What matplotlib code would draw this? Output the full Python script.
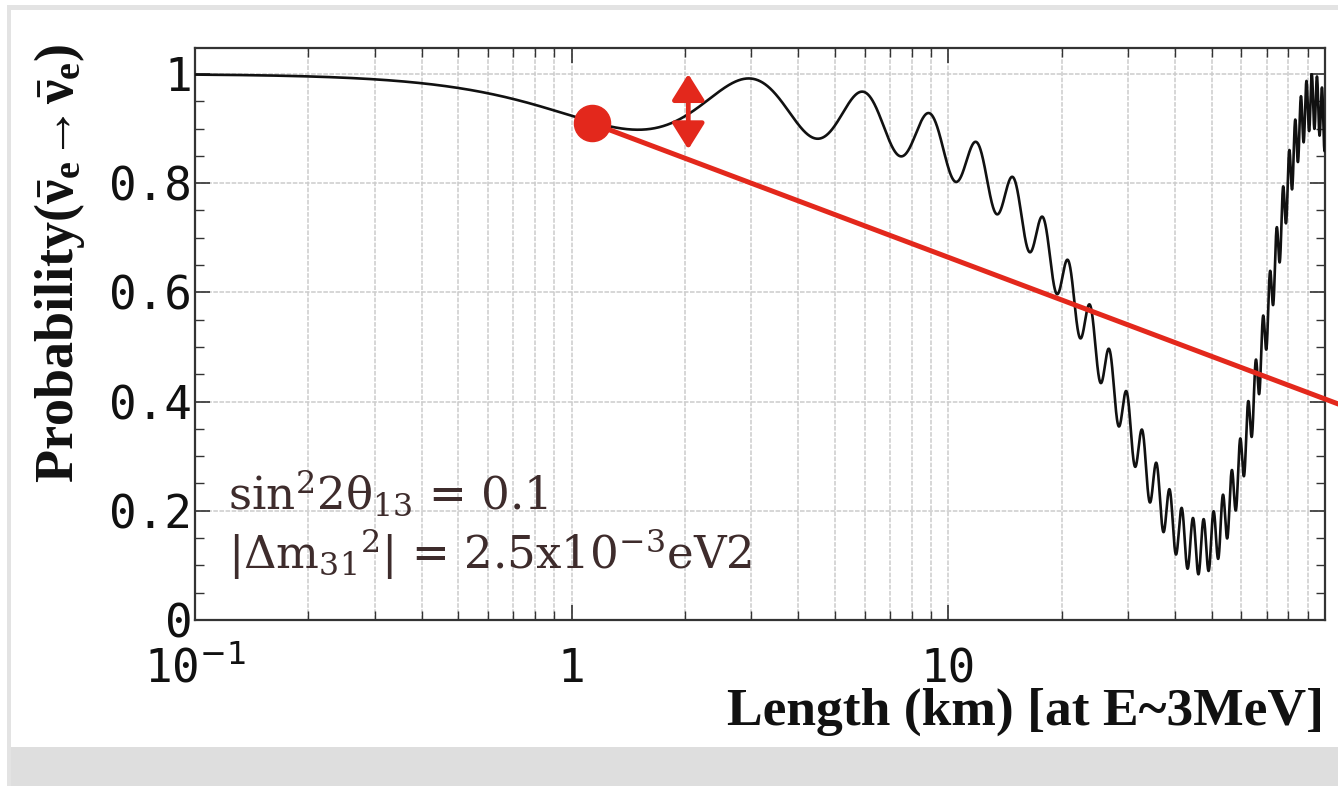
import numpy as np
import matplotlib
matplotlib.use("Agg")
import matplotlib.pyplot as plt
from matplotlib.patches import Rectangle
from matplotlib.ticker import LogLocator, MultipleLocator, NullFormatter

# Oscillation parameters (as stated on the plot) and beam energy
sin2_2theta13 = 0.1
dm31_sq = 2.5e-3        # eV^2
dm21_sq = 8.0e-5        # eV^2
sin2_2theta12 = 0.86
energy_gev = 0.003      # E ~ 3 MeV

# Baseline range (km)
length_km = np.logspace(-1, 2, 30000)

# Reference point on the curve and the line drawn from it
point_len, point_prob = 1.13, 0.91
line_end_len, line_end_prob = 110.0, 0.394
# Amplitude marker (double arrow)
arrow_len = 2.04
arrow_top, arrow_bottom = 1.0, 0.862

y_ticks = [0, 0.2, 0.4, 0.6, 0.8, 1.0]
y_tick_labels = ["0", "0.2", "0.4", "0.6", "0.8", "1"]
x_ticks = [0.1, 1, 10]
x_tick_labels = [r"10$^{-1}$", "1", "10"]

# Survival probability of reactor anti-neutrinos
cos4_theta13 = (0.5 * (1 + np.sqrt(1 - sin2_2theta13))) ** 2
phase31 = 1.267 * dm31_sq * length_km / energy_gev
phase21 = 1.267 * dm21_sq * length_km / energy_gev
prob = (1 - sin2_2theta13 * np.sin(phase31) ** 2
        - cos4_theta13 * sin2_2theta12 * np.sin(phase21) ** 2)

plt.rcParams["mathtext.rm"] = "Liberation Serif"
plt.rcParams["mathtext.bf"] = "Liberation Serif:bold"
plt.rcParams["mathtext.it"] = "Liberation Serif:italic"

W, H = 1338, 786
fig = plt.figure(figsize=(W / 100, H / 100), dpi=100)
fig.patch.set_facecolor("white")

# Grey page frame around the plot
gray = "#e3e3e3"
fig.add_artist(Rectangle((7 / W, 0), (W - 7) / W, 39 / H, transform=fig.transFigure,
                         facecolor="#dedede", edgecolor="none", zorder=0))
fig.add_artist(Rectangle((7 / W, 0), 4 / W, 1 - 5 / H, transform=fig.transFigure,
                         facecolor=gray, edgecolor="none", zorder=0))
fig.add_artist(Rectangle((7 / W, 1 - 10 / H), (W - 7) / W, 5 / H, transform=fig.transFigure,
                         facecolor=gray, edgecolor="none", zorder=0))

ax = fig.add_axes([195 / W, 1 - 620 / H, 1130 / W, 572 / H])
ax.set_xscale("log")
ax.set_xlim(0.1, 100)
ax.set_ylim(0, 1.0476)

ax.plot(length_km, prob, color="#111111", lw=1.9, zorder=3)

red = "#e3281c"
ax.plot([point_len, line_end_len], [point_prob, line_end_prob], color=red, lw=3.6,
        solid_capstyle="butt", clip_on=False, zorder=4)
ax.plot([point_len], [point_prob], "o", color=red, ms=26, zorder=5, clip_on=False)
ax.annotate("", xy=(arrow_len, arrow_top), xytext=(arrow_len, arrow_bottom),
            arrowprops=dict(arrowstyle="<|-|>,head_length=0.8,head_width=0.5",
                            mutation_scale=20, color=red, lw=3.4, shrinkA=0, shrinkB=0),
            zorder=5)

# Axis styling
mono = "DejaVu Sans Mono"
ax.set_yticks(y_ticks)
ax.set_yticklabels(y_tick_labels, fontfamily=mono, fontsize=33)
ax.set_xticks(x_ticks)
ax.set_xticklabels(x_tick_labels, fontfamily=mono, fontsize=33)
plt.setp(ax.get_xticklabels(), va="baseline")
ax.xaxis.set_minor_locator(LogLocator(base=10, subs=np.arange(2, 10)))
ax.xaxis.set_minor_formatter(NullFormatter())
ax.yaxis.set_minor_locator(MultipleLocator(0.05))
ax.tick_params(which="both", direction="in", top=True, right=True, colors="#333333")
ax.tick_params(which="major", length=11, width=1.2)
ax.tick_params(which="minor", length=6.5, width=1.0)
ax.tick_params(axis="y", pad=2, labelcolor="#111111")
ax.tick_params(axis="x", pad=45, labelcolor="#111111")
for s in ax.spines.values():
    s.set_color("#333333")
    s.set_linewidth(1.6)

ax.grid(which="major", axis="both", color="#cccccc", lw=1.1, ls=(0, (3, 1)))
ax.grid(which="minor", axis="x", color="#cccccc", lw=1.1, ls=(0, (3, 1)))
ax.set_axisbelow(True)

# Axis titles
fig.text(1324 / W, 1 - 725 / H, "Length (km) [at E~3MeV]", ha="right", va="baseline",
         fontfamily="Liberation Serif", fontweight="bold", fontsize=38.5, color="#111111")
fig.text(60 / W, 1 - 44 / H,
         r"Probability($\bar{\mathbf{ν}}_{\mathbf{e}}\!\rightarrow\!\bar{\mathbf{ν}}_{\mathbf{e}}$)",
         rotation=90, ha="center", va="top", fontfamily="Liberation Serif",
         fontweight="bold", fontsize=39, color="#111111", math_fontfamily="custom")

# Parameter annotation
txt_color = "#3e2c2c"
fig.text(228 / W, 1 - 510 / H, r"sin$^{2}$2θ$_{13}$ = 0.1", ha="left", va="baseline",
         fontfamily="DejaVu Serif", fontsize=32.5, color=txt_color, math_fontfamily="dejavuserif")
fig.text(228 / W, 1 - 569 / H, r"|Δm$_{31}$$^{2}$| = 2.5x10$^{-3}$eV2", ha="left", va="baseline",
         fontfamily="DejaVu Serif", fontsize=32.5, color=txt_color, math_fontfamily="dejavuserif")

fig.savefig("out.png", dpi=100, facecolor=fig.get_facecolor())
